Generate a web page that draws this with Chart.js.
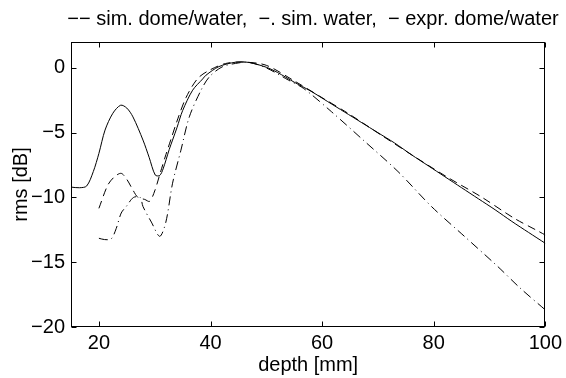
<!DOCTYPE html>
<html>
<head>
<meta charset="utf-8">
<script src="https://cdn.jsdelivr.net/npm/chart.js@4.4.0/dist/chart.umd.min.js"></script>
<style>
  html, body { margin: 0; padding: 0; background: #fff; }
  #wrap { width: 566px; height: 378px; }
</style>
</head>
<body>
<div id="wrap"><canvas id="grafico-rms"></canvas></div>
<script>
// Dados (profundidade em mm, rms em dB)
const exprDepth = [15, 16.5, 17.8, 19, 20, 21.1, 22.5, 23.9, 25, 26.1, 27.9, 29, 30.1, 30.9, 31.5, 32.6, 33.2, 34, 35, 36.8, 38.6, 39.2, 41.5, 44.5, 46.9, 50, 52, 55, 58, 61, 64, 67, 70, 73, 76, 79, 82, 85, 88, 91, 94, 97, 100];
const exprRms = [-9.2, -9.25, -9.12, -8.0, -6.6, -4.8, -3.5, -2.88, -3.1, -3.78, -5.57, -6.9, -8.27, -8.3, -7.8, -6.3, -5.57, -4.6, -3.3, -1.72, -0.85, -0.56, 0.1, 0.44, 0.42, 0.05, -0.35, -1.1, -1.8, -2.6, -3.4, -4.2, -5.0, -5.8, -6.7, -7.55, -8.4, -9.25, -10.1, -10.95, -11.85, -12.7, -13.54];

const simDomeDepth = [20, 21.6, 22.8, 24, 25, 26.1, 27, 28.2, 29.1, 30, 31, 32, 33, 34, 35.6, 37.7, 39.8, 42.7, 46, 50, 55, 60, 64.7, 70.6, 76.6, 82.5, 88.5, 94.4, 98.9, 100];
const simDomeRms = [-10.84, -9.04, -8.4, -8.14, -8.6, -9.43, -10.0, -10.15, -10.3, -9.5, -8.1, -6.7, -5.4, -4.1, -2.3, -0.82, -0.18, 0.34, 0.45, 0.2, -1.0, -2.3, -3.52, -5.19, -6.86, -8.45, -9.95, -11.6, -12.64, -12.9];

const simWaterDepth = [20, 21, 22.2, 23.1, 24, 24.9, 26.2, 27.4, 27.9, 29.4, 30.9, 32, 33.2, 34.7, 36.2, 38.3, 39.8, 42.1, 45.1, 47, 50, 54, 56.7, 61.7, 67.7, 73.6, 79.6, 85.5, 91.4, 95.5, 100];
const simWaterRms = [-13.15, -13.25, -13.2, -12.4, -11.2, -10.7, -10.0, -10.0, -10.7, -11.9, -13.0, -11.9, -8.9, -6.35, -3.78, -1.72, -0.69, 0.08, 0.39, 0.42, 0.0, -0.95, -1.59, -3.39, -5.7, -8.0, -10.7, -13.0, -15.3, -17.0, -18.68];

const xTicks = [20, 40, 60, 80, 100];
const yTicks = [-20, -15, -10, -5, 0];
const legendaTexto = '\u2212\u2212 sim. dome/water,  \u2212. sim. water,  \u2212 expr. dome/water';

const fonte = { family: '"Liberation Sans", Arial, Helvetica, sans-serif', size: 20 };

// Monta os pontos {x, y}
function pontos(xs, ys) {
    return xs.map((v, i) => ({ x: v, y: ys[i] }));
}

// Caixa do eixo com ticks para dentro + legenda no topo
const caixaPlugin = {
    id: 'caixa',
    afterDatasetsDraw(chart) {
        const { ctx, chartArea: a, scales: { x, y } } = chart;
        const tl = 5;
        ctx.save();
        ctx.strokeStyle = '#000';
        ctx.lineWidth = 1;
        const l = Math.round(a.left) + 0.5, r = Math.round(a.right) - 0.5;
        const t = Math.round(a.top) + 0.5, b = Math.round(a.bottom) - 0.5;
        ctx.strokeRect(l, t, r - l, b - t);
        ctx.beginPath();
        xTicks.forEach(v => {
            const px = Math.round(x.getPixelForValue(v)) + 0.5;
            ctx.moveTo(px, b); ctx.lineTo(px, b - tl);
            ctx.moveTo(px, t); ctx.lineTo(px, t + tl);
        });
        yTicks.forEach(v => {
            const py = Math.round(y.getPixelForValue(v)) + 0.5;
            ctx.moveTo(l, py); ctx.lineTo(l + tl, py);
            ctx.moveTo(r, py); ctx.lineTo(r - tl, py);
        });
        ctx.stroke();

        ctx.fillStyle = '#000';
        ctx.font = `${fonte.size}px ${fonte.family}`;
        ctx.textAlign = 'center';
        ctx.textBaseline = 'middle';
        ctx.fillText(legendaTexto, 313, 19);
        ctx.restore();
    }
};

const ctx = document.getElementById('grafico-rms').getContext('2d');
new Chart(ctx, {
    type: 'line',
    data: {
        datasets: [
            {
                label: 'sim. dome/water',
                data: pontos(simDomeDepth, simDomeRms),
                borderColor: '#000',
                borderWidth: 1,
                borderDash: [8, 5],
                pointRadius: 0,
                tension: 0.3
            },
            {
                label: 'sim. water',
                data: pontos(simWaterDepth, simWaterRms),
                borderColor: '#000',
                borderWidth: 1,
                borderDash: [9, 4, 1, 4],
                pointRadius: 0,
                tension: 0.3
            },
            {
                label: 'expr. dome/water',
                data: pontos(exprDepth, exprRms),
                borderColor: '#000',
                borderWidth: 1,
                pointRadius: 0,
                tension: 0.3
            }
        ]
    },
    options: {
        responsive: true,
        maintainAspectRatio: false,
        animation: false,
        layout: { padding: { top: 42, right: 18, left: 0, bottom: 0 } },
        plugins: {
            legend: { display: false },
            tooltip: { enabled: false }
        },
        scales: {
            x: {
                type: 'linear',
                min: 15,
                max: 100,
                grid: { display: false, drawTicks: false },
                border: { display: false },
                afterBuildTicks: scale => { scale.ticks = xTicks.map(v => ({ value: v })); },
                afterFit: scale => { scale.height = 51; },
                ticks: { color: '#000', font: fonte, padding: 4, maxRotation: 0, autoSkip: false },
                title: { display: true, text: 'depth [mm]', color: '#000', font: fonte, padding: { top: 0, bottom: 1 } }
            },
            y: {
                type: 'linear',
                min: -20,
                max: 2,
                grid: { display: false, drawTicks: false },
                border: { display: false },
                afterBuildTicks: scale => { scale.ticks = yTicks.map(v => ({ value: v })); },
                afterFit: scale => { scale.width = 71; },
                ticks: {
                    color: '#000',
                    font: fonte,
                    padding: 6,
                    callback: v => String(v).replace('-', '\u2212')
                },
                title: { display: true, text: 'rms [dB]', color: '#000', font: fonte, padding: { top: 9, bottom: 0 } }
            }
        }
    },
    plugins: [caixaPlugin]
});
</script>
</body>
</html>
